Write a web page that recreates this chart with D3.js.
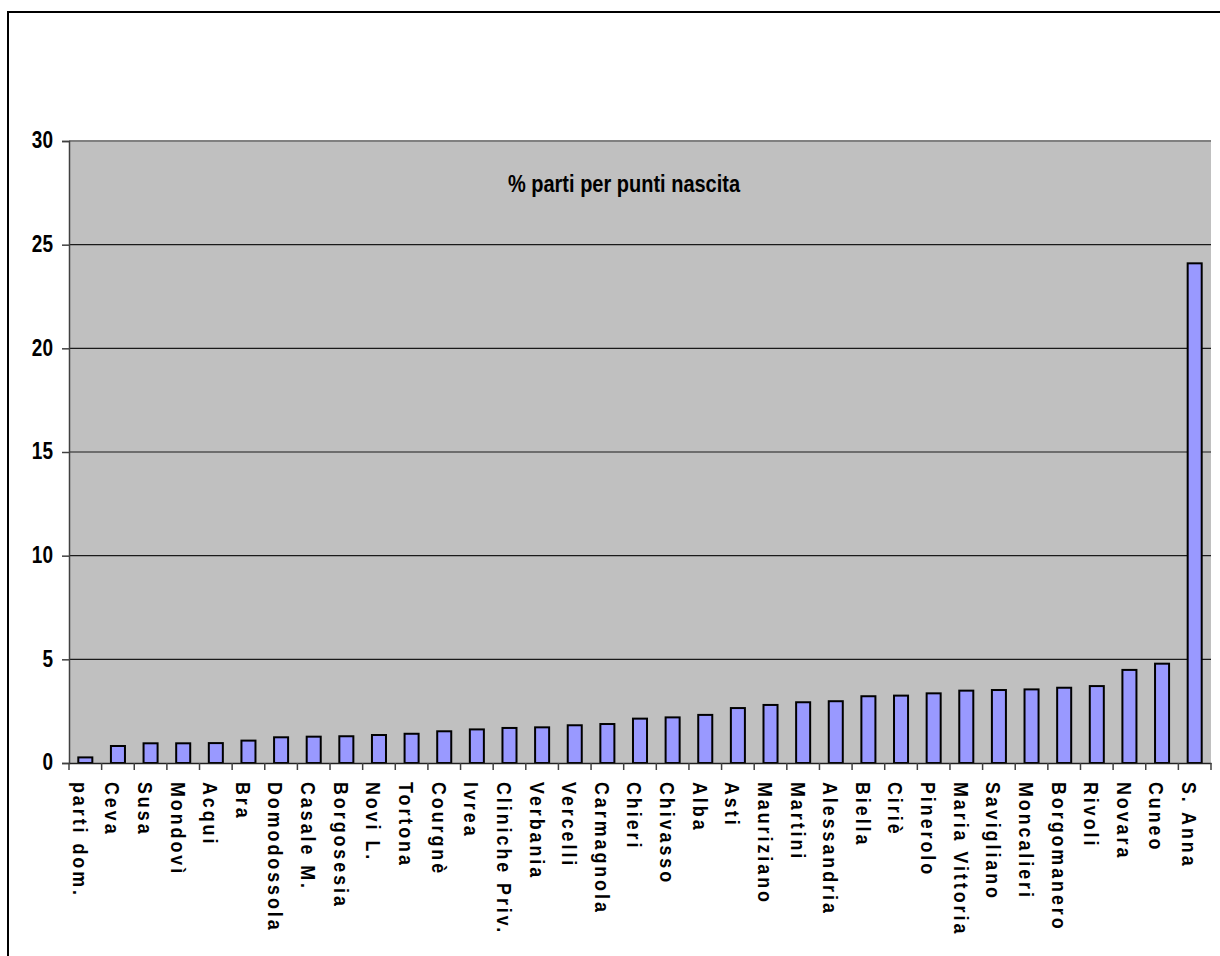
<!DOCTYPE html>
<html>
<head>
<meta charset="utf-8">
<script src="https://cdn.jsdelivr.net/npm/d3@7"></script>
<style>
  body { margin: 0; background: #fff; }
  svg { display: block; }
  text { font-family: "Liberation Sans", Arial, sans-serif; font-weight: bold; fill: #000; }
</style>
</head>
<body>
<script>
// punti nascita, sorted as in the original sheet
var categories = ['parti dom.', 'Ceva', 'Susa', 'Mondovì', 'Acqui', 'Bra', 'Domodossola',
  'Casale M.', 'Borgosesia', 'Novi L.', 'Tortona', 'Courgnè', 'Ivrea', 'Cliniche Priv.',
  'Verbania', 'Vercelli', 'Carmagnola', 'Chieri', 'Chivasso', 'Alba', 'Asti', 'Mauriziano',
  'Martini', 'Alessandria', 'Biella', 'Ciriè', 'Pinerolo', 'Maria Vittoria', 'Savigliano',
  'Moncalieri', 'Borgomanero', 'Rivoli', 'Novara', 'Cuneo', 'S. Anna']

var values = [0.27, 0.82, 0.95, 0.95, 0.96, 1.08, 1.24, 1.27, 1.29, 1.35, 1.41, 1.53, 1.62, 1.69,
  1.72, 1.82, 1.88, 2.14, 2.2, 2.32, 2.65, 2.8, 2.93, 2.98, 3.22, 3.25, 3.36, 3.49, 3.52,
  3.55, 3.63, 3.71, 4.49, 4.79, 24.1]

var yTicks = [0, 5, 10, 15, 20, 25, 30]
var title = '% parti per punti nascita'

var data = categories.map(function (c, i) { return {name: c, value: values[i]} })

var W = 1220, H = 956
var plot = {left: 69, right: 1211, top: 141, bottom: 763}

var svg = d3.select('body').append('svg')
  .attr('width', W)
  .attr('height', H)

// outer chart border (runs off the right / bottom like the screenshot)
svg.append('rect')
  .attr('x', 8).attr('y', 12)
  .attr('width', 1240).attr('height', 1000)
  .attr('fill', '#fff')
  .attr('stroke', '#000')
  .attr('stroke-width', 2)

var pad = 0.57
var x = d3.scaleBand()
  .domain(categories)
  .range([plot.left, plot.right])
  .paddingInner(pad)
  .paddingOuter(pad / 2)

var y = d3.scaleLinear()
  .domain([0, 30])
  .range([plot.bottom, plot.top])

// grey plot area
svg.append('rect')
  .attr('x', plot.left).attr('y', plot.top)
  .attr('width', plot.right - plot.left)
  .attr('height', plot.bottom - plot.top)
  .attr('fill', '#c0c0c0')

// gridlines
svg.append('g')
  .selectAll('line')
  .data(yTicks.filter(function (t) { return t > 0 && t < 30 }))
  .enter().append('line')
    .attr('x1', plot.left).attr('x2', plot.right)
    .attr('y1', function (d) { return y(d) })
    .attr('y2', function (d) { return y(d) })
    .attr('stroke', '#1a1a1a')
    .attr('stroke-width', 1.2)

// top border of plot
svg.append('line')
  .attr('x1', plot.left).attr('x2', plot.right)
  .attr('y1', y(30)).attr('y2', y(30))
  .attr('stroke', '#808080')
  .attr('stroke-width', 2)

// bars
svg.append('g')
  .selectAll('rect')
  .data(data)
  .enter().append('rect')
    .attr('x', function (d) { return x(d.name) })
    .attr('width', x.bandwidth())
    .attr('y', function (d) { return y(d.value) })
    .attr('height', function (d) { return y(0) - y(d.value) })
    .attr('fill', '#9999ff')
    .attr('stroke', '#000')
    .attr('stroke-width', 2)

// y axis
var yAxis = svg.append('g')
  .attr('transform', 'translate(' + plot.left + ',0)')
  .call(d3.axisLeft(y).tickValues(yTicks).tickSize(7).tickPadding(9))
yAxis.select('.domain').attr('stroke', '#404040').attr('stroke-width', 1.5)
yAxis.selectAll('.tick line').attr('stroke', '#404040').attr('stroke-width', 1.5)
yAxis.selectAll('.tick text')
  .attr('font-size', 19)
  .attr('font-family', '"Liberation Sans", Arial, sans-serif')
  .attr('font-weight', 'bold')
  .attr('fill', '#000')
  .attr('dy', null)
  .attr('transform', 'translate(-16,0) scale(1,1.3)')
  .attr('x', 0)
  .attr('y', 5.2)

// x axis: line + ticks at category boundaries
var step = x.step()
var xAxis = svg.append('g')
  .attr('transform', 'translate(0,' + plot.bottom + ')')
  .call(d3.axisBottom(x).tickSize(0).tickFormat(''))
xAxis.select('.domain').attr('stroke', '#202020').attr('stroke-width', 1.5)

xAxis.selectAll('.bound')
  .data(d3.range(categories.length + 1))
  .enter().append('line')
    .attr('class', 'bound')
    .attr('x1', function (i) { return plot.left + i * step })
    .attr('x2', function (i) { return plot.left + i * step })
    .attr('y1', 0).attr('y2', 7)
    .attr('stroke', '#404040')
    .attr('stroke-width', 1.5)

// rotated category labels (condensed + spaced, tops facing right)
svg.append('g')
  .selectAll('text')
  .data(categories)
  .enter().append('text')
    .attr('transform', function (d) {
      return 'translate(' + (x(d) + x.bandwidth() / 2 - 13) + ',782) rotate(90) scale(0.85,1)'
    })
    .attr('font-size', 21)
    .attr('letter-spacing', 3.5)
    .attr('dy', '-0.02em')
    .text(function (d) { return d })

// title
svg.append('text')
  .attr('transform', 'translate(624,192) scale(1,1.2)')
  .attr('text-anchor', 'middle')
  .attr('font-size', 20)
  .text(title)
</script>
</body>
</html>
